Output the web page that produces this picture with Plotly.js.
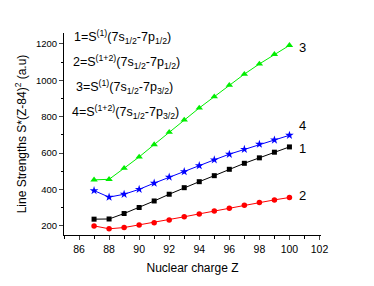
<!DOCTYPE html>
<html>
<head>
<meta charset="utf-8">
<script src="https://cdn.plot.ly/plotly-3.0.1.min.js"></script>
<style>html,body{margin:0;padding:0;background:#fff;}#chart{width:374px;height:286px;}</style>
</head>
<body>
<div id="chart"></div>
<script>
var Z = [87, 88, 89, 90, 91, 92, 93, 94, 95, 96, 97, 98, 99, 100];
var s1 = [237, 238, 268, 301, 337, 374, 410, 443, 476, 511, 544, 574, 605, 634];
var s2 = [200, 184, 191, 205, 218, 233, 250, 266, 282, 297, 314, 328, 343, 356];
var s3 = [453, 456, 517, 579, 647, 715, 782, 848, 910, 973, 1034, 1090, 1143, 1192];
var s4 = [394, 358, 374, 401, 435, 468, 498, 531, 563, 594, 621, 649, 672, 698];
var seriesLabels = ["1", "2", "3", "4"];
var legendLines = [
  "1=S<sup>(1)</sup>(7s<sub>1/2</sub>-7p<sub>1/2</sub>)",
  "2=S<sup>(1+2)</sup>(7s<sub>1/2</sub>-7p<sub>1/2</sub>)",
  "3=S<sup>(1)</sup>(7s<sub>1/2</sub>-7p<sub>3/2</sub>)",
  "4=S<sup>(1+2)</sup>(7s<sub>1/2</sub>-7p<sub>3/2</sub>)"
];
var xTitle = "Nuclear charge Z";
var yTitle = "Line Strengths S*(Z-84)<sup>2</sup> (a.u)";

var FONT = "Liberation Sans, Arial, sans-serif";
function tr(y, color, symbol, size) {
  return {x: Z, y: y, mode: "lines+markers", type: "scatter",
    line: {color: color, width: 1},
    marker: {color: color, symbol: symbol, size: size, line: {width: 0}},
    showlegend: false, cliponaxis: false};
}
var data = [
  tr(s1, "#000000", "square", 5),
  tr(s2, "#ff0000", "circle", 5.5),
  tr(s3, "#00ee00", "triangle-up", 6.5),
  tr(s4, "#0000ff", "star", 6.5)
];
var series = [s1, s2, s3, s4];
var labelShiftY = [-2, 2, -2, 10];
var annotations = [];
for (var i = 0; i < 4; i++) {
  annotations.push({x: Z[Z.length - 1], y: series[i][series[i].length - 1], xref: "x", yref: "y",
    text: seriesLabels[i], showarrow: false, xanchor: "left", xshift: 8, yshift: labelShiftY[i],
    font: {family: FONT, size: 13, color: "#000"}});
}
var legY = [1238, 1100, 963, 826];
var legX = [72, 71, 74, 70];
for (var j = 0; j < 4; j++) {
  annotations.push({x: (legX[j] - 64) / (321 - 64), y: legY[j], xref: "paper", yref: "y",
    text: legendLines[j], showarrow: false, xanchor: "left", yanchor: "middle",
    font: {family: FONT, size: 12.5, color: "#000"}});
}
var layout = {
  width: 374, height: 286,
  margin: {l: 64, r: 53, t: 33, b: 51},
  paper_bgcolor: "#fff", plot_bgcolor: "#fff",
  font: {family: FONT, size: 10, color: "#000"},
  xaxis: {range: [85, 102.1], dtick: 2, tick0: 86, ticks: "outside", ticklen: 4, tickwidth: 1,
    showgrid: false, zeroline: false, showline: true, linecolor: "#000", linewidth: 1,
    tickfont: {family: FONT, size: 10.5},
    minor: {dtick: 1, tick0: 85, ticks: "outside", ticklen: 2.5, tickcolor: "#000", showgrid: false},
    title: {text: xTitle, font: {family: FONT, size: 12}, standoff: 10}},
  yaxis: {range: [150, 1260], dtick: 200, tick0: 200, ticks: "outside", ticklen: 4, tickwidth: 1,
    showgrid: false, zeroline: false, showline: true, linecolor: "#000", linewidth: 1,
    tickfont: {family: FONT, size: 9.5},
    minor: {dtick: 100, tick0: 100, ticks: "outside", ticklen: 2.5, tickcolor: "#000", showgrid: false},
    title: {text: yTitle, font: {family: FONT, size: 12}, standoff: 6}},
  annotations: annotations
};
Plotly.newPlot("chart", data, layout, {displayModeBar: false, staticPlot: true});
</script>
</body>
</html>
